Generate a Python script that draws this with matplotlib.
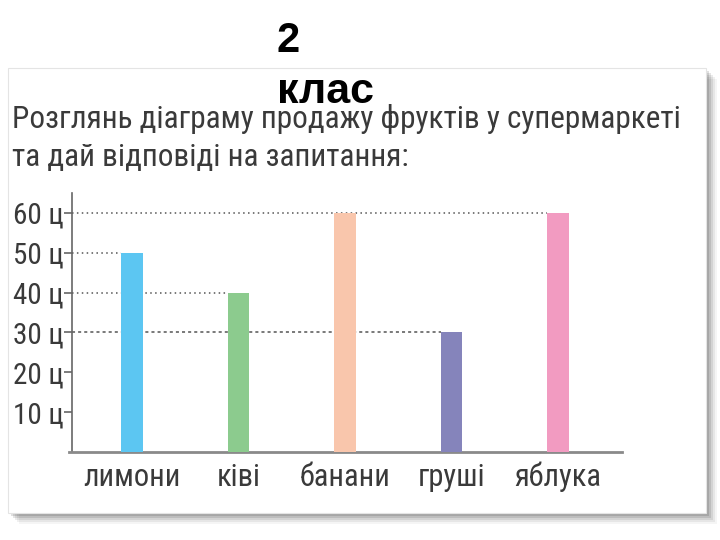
import matplotlib
matplotlib.use("Agg")
import matplotlib.pyplot as plt
from matplotlib.patches import Rectangle

# data
fruits = ["лимони", "ківі", "банани", "груші", "яблука"]
sales = [50, 40, 60, 30, 60]
colors = ["#5cc6f2", "#8ccb8e", "#f9c6ac", "#8584bb", "#f29bc1"]
yticks = [10, 20, 30, 40, 50, 60]
ylabels = ["%d ц" % v for v in yticks]
# levels that get a dotted guide line, and the bar each one runs to
guides = [(60, 4), (50, 0), (40, 1), (30, 3)]

W, H = 720, 540
fig = plt.figure(figsize=(7.2, 5.4), dpi=100)
fig.patch.set_facecolor("white")

def fx(px):
    return px / W

def fy(py):
    return 1 - py / H

# panel with a soft shadow
px0, py0, px1, py1 = 8, 68, 706, 513
for i, a in enumerate([0.04, 0.06, 0.08, 0.10, 0.12, 0.14]):
    off = 11 - i * 2
    fig.patches.append(Rectangle((fx(px0 + off), fy(py1 + off)), fx(px1 - px0), (py1 - py0) / H,
                                 transform=fig.transFigure, facecolor="black", alpha=a,
                                 edgecolor="none", zorder=0))
fig.patches.append(Rectangle((fx(px0), fy(py1)), fx(px1 - px0), (py1 - py0) / H,
                             transform=fig.transFigure, facecolor="white",
                             edgecolor="#e4e4e4", linewidth=0.8, zorder=1))

narrow = ["Roboto Condensed", "Fira Sans Condensed", "DejaVu Sans"]
txt = "#3a3a3a"

fig.text(fx(12), fy(128), "Розглянь діаграму продажу фруктів у супермаркеті",
         family=narrow, fontsize=22.5, color=txt, va="baseline", ha="left", zorder=3)
fig.text(fx(12), fy(166), "та дай відповіді на запитання:",
         family=narrow, fontsize=22.5, color=txt, va="baseline", ha="left", zorder=3)

ax = fig.add_axes([fx(69), fy(452), fx(622 - 69), 259 / H])
ax.set_zorder(2)
ax.patch.set_alpha(0)
x = list(range(len(fruits)))
bw = 0.2
ax.bar(x, sales, width=bw, color=colors, zorder=3)

ax.set_xlim(-0.59, 4.6)
ax.set_ylim(0, 65)
yaxis_x = -0.56
for lvl, idx in guides:
    ls = (0, (2, 2)) if lvl == 30 else (0, (1, 2.2))
    ax.hlines(lvl, yaxis_x, x[idx] - bw / 2, colors="#555555", linestyles=ls,
              linewidth=1.1, zorder=2)

for s in ["top", "right"]:
    ax.spines[s].set_visible(False)
ax.spines["left"].set_position(("data", yaxis_x))
ax.spines["left"].set_color("#666666")
ax.spines["left"].set_linewidth(1.2)
ax.spines["bottom"].set_color("#8a8a8a")
ax.spines["bottom"].set_linewidth(2)

ax.set_yticks(yticks)
ax.set_yticklabels(ylabels, family=narrow, fontsize=21, color=txt)
ax.tick_params(axis="y", length=6, width=1.2, color="#666666", pad=0)
ax.set_xticks(x)
ax.set_xticklabels(fruits, family=narrow, fontsize=22, color=txt)
ax.tick_params(axis="x", length=0, pad=24.5)
for lab in ax.get_xticklabels():
    lab.set_va("baseline")

fig.text(fx(277), fy(52), "2", family=["Liberation Sans", "DejaVu Sans"], fontsize=30,
         fontweight="bold", color="black", va="baseline", ha="left", zorder=4)
fig.text(fx(277), fy(103), "клас", family=["Liberation Sans", "DejaVu Sans"], fontsize=31,
         fontweight="bold", color="black", va="baseline", ha="left", zorder=4)

fig.savefig("out.png", dpi=100)
